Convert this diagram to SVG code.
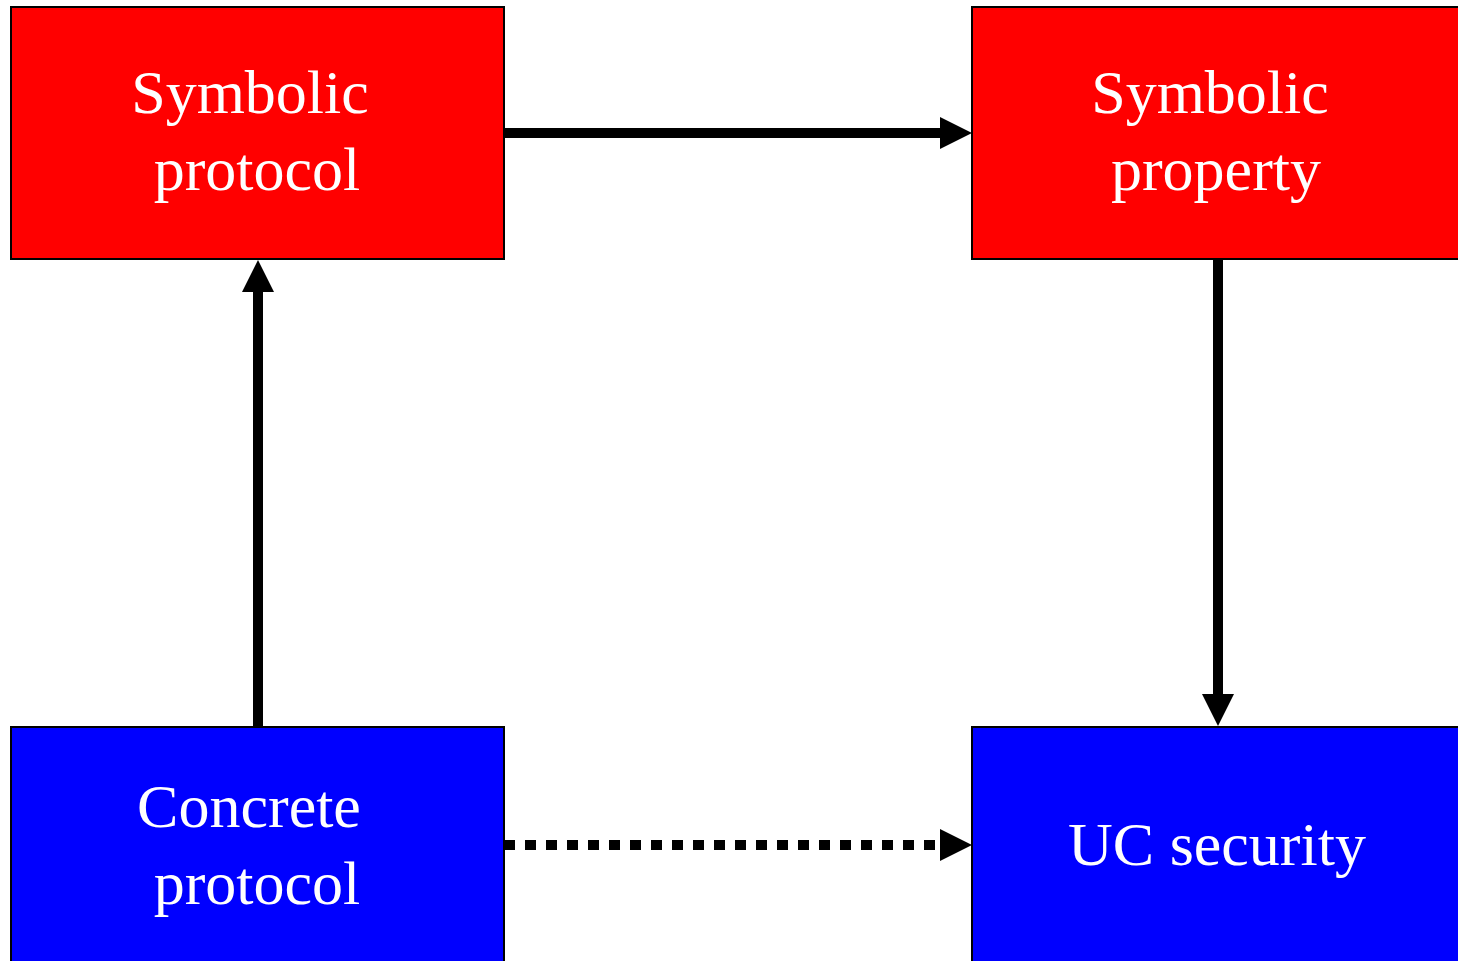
<svg xmlns="http://www.w3.org/2000/svg" width="1458" height="961" viewBox="0 0 1458 961">
  <style>
    .box { stroke: #000; stroke-width: 2; }
    .sym { fill: #ff0000; }
    .con { fill: #0000ff; }
    .lbl { font-family: "Liberation Serif", "Times New Roman", serif; font-size: 62px; fill: #fff; text-anchor: middle; }
    .edge { stroke: #000; stroke-width: 10; fill: none; }
    .dotted { stroke-dasharray: 11 10; }
  </style>
  <defs>
    <!-- arrowhead drawn beyond the line end, so the shaft stops at its base -->
    <marker id="head" markerUnits="userSpaceOnUse" markerWidth="32" markerHeight="32" viewBox="0 0 32 32" refX="0" refY="16" orient="auto">
      <path d="M0,0 L32,16 L0,32 Z" fill="#000"/>
    </marker>
  </defs>
  <rect width="1458" height="961" fill="#fff"/>

  <g id="symbolic-protocol">
    <rect class="box sym" x="11" y="7" width="493" height="252"/>
    <text class="lbl" x="250" y="113">Symbolic</text>
    <text class="lbl" x="257" y="190">protocol</text>
  </g>

  <g id="symbolic-property">
    <rect class="box sym" x="972" y="7" width="493" height="252"/>
    <text class="lbl" x="1210" y="113">Symbolic</text>
    <text class="lbl" x="1216" y="190">property</text>
  </g>

  <g id="concrete-protocol">
    <rect class="box con" x="11" y="727" width="493" height="252"/>
    <text class="lbl" x="249" y="827">Concrete</text>
    <text class="lbl" x="257" y="904">protocol</text>
  </g>

  <g id="uc-security">
    <rect class="box con" x="972" y="727" width="493" height="252"/>
    <text class="lbl" x="1217" y="865">UC security</text>
  </g>

  <g id="connectors">
    <line class="edge" x1="505" y1="133" x2="940" y2="133" marker-end="url(#head)"/>
    <line class="edge" x1="258" y1="726" x2="258" y2="292" marker-end="url(#head)"/>
    <line class="edge" x1="1218" y1="260" x2="1218" y2="694" marker-end="url(#head)"/>
    <line class="edge dotted" x1="504" y1="845" x2="940" y2="845" marker-end="url(#head)"/>
  </g>
</svg>
